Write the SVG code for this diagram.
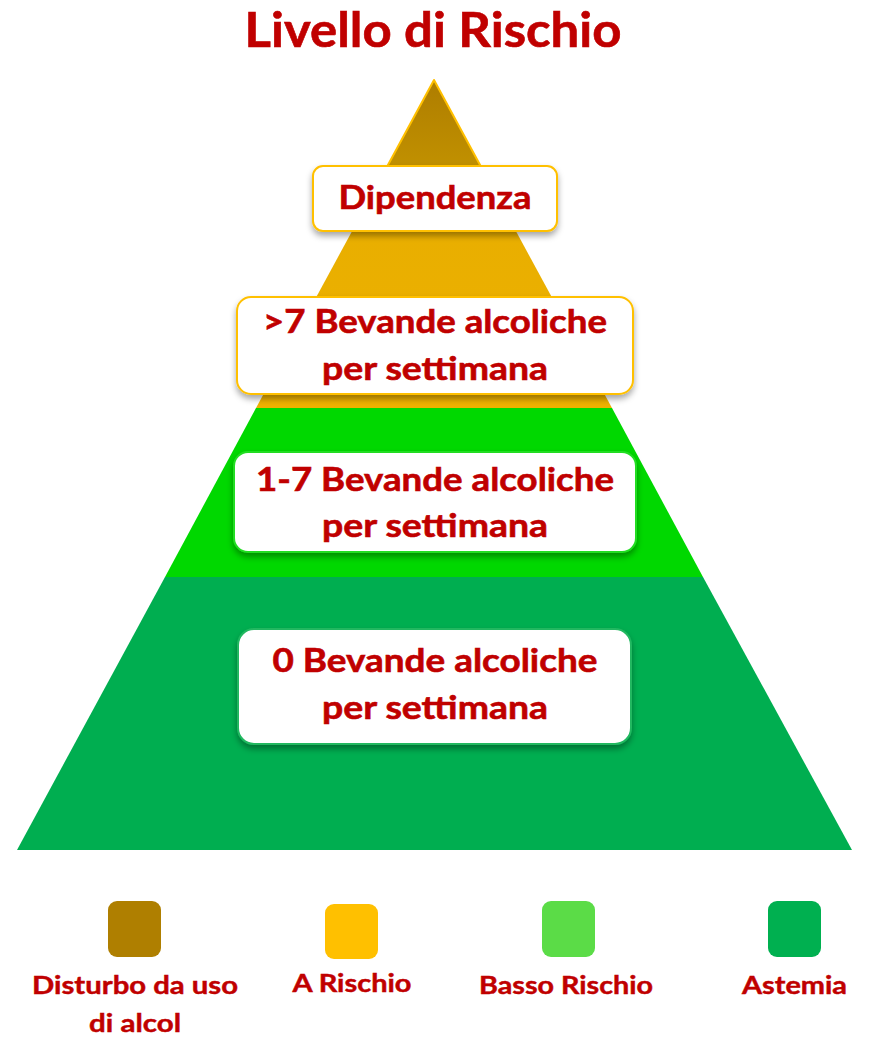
<svg xmlns="http://www.w3.org/2000/svg" width="876" height="1042" viewBox="0 0 876 1042">
<defs>
<linearGradient id="gBrown" x1="0" y1="0" x2="0" y2="1">
<stop offset="0" stop-color="#AE7D00"/>
<stop offset="1" stop-color="#C89800"/>
</linearGradient>
<linearGradient id="gGold" x1="0" y1="0" x2="0" y2="1">
<stop offset="0" stop-color="#E8AE00"/>
<stop offset="1" stop-color="#EDB100"/>
</linearGradient>
<filter id="sh" x="-10%" y="-20%" width="120%" height="150%">
<feDropShadow dx="0" dy="4" stdDeviation="3" flood-color="#000" flood-opacity="0.35"/>
</filter>
</defs>
<style>
.t{font-family:Lato,"Open Sans","Liberation Sans",sans-serif;font-weight:700;fill:#C00000;stroke:#C00000;stroke-width:0.6px;text-anchor:middle}
.box{fill:#FFFFFF;stroke-width:2;filter:url(#sh)}
.bx{font-size:33px}
.lg{font-size:24.5px;stroke-width:0.45px}
</style>
<rect width="876" height="1042" fill="#FFFFFF"/>
<g id="title"><text class="t" x="433" y="47" font-size="48" textLength="377" lengthAdjust="spacingAndGlyphs">Livello di Rischio</text></g>
<g id="pyramid">
<polygon points="165,577 703,577 852,850 17,850" fill="#00AE50"/>
<polygon points="256,408 612,408 703,577 165,577" fill="#00D800"/>
<polygon points="369,200 499,200 612,408 256,408" fill="url(#gGold)"/>
<polygon points="434,80 499,200 369,200" fill="url(#gBrown)" stroke="#FFC000" stroke-width="2" stroke-linejoin="round"/>
</g>
<g id="connectors"></g>
<g id="node-dipendenza">
<rect class="box" x="313" y="166" width="244" height="65" rx="10" stroke="#FFC000"/>
<text class="t bx" x="435" y="209" textLength="193" lengthAdjust="spacingAndGlyphs">Dipendenza</text>
</g>
<g id="node-over7">
<rect class="box" x="237" y="297" width="396" height="97" rx="14" stroke="#FFC000"/>
<text class="t bx" x="435" y="333" textLength="344" lengthAdjust="spacingAndGlyphs">&gt;7 Bevande alcoliche</text>
<text class="t bx" x="435" y="380" textLength="226" lengthAdjust="spacingAndGlyphs">per settimana</text>
</g>
<g id="node-1to7">
<rect class="box" x="234" y="452" width="402" height="100" rx="14" stroke="#22DD22"/>
<text class="t bx" x="435" y="491" textLength="358" lengthAdjust="spacingAndGlyphs">1-7 Bevande alcoliche</text>
<text class="t bx" x="435" y="537" textLength="226" lengthAdjust="spacingAndGlyphs">per settimana</text>
</g>
<g id="node-zero">
<rect class="box" x="238" y="629" width="393" height="115" rx="16" stroke="#20B860"/>
<text class="t bx" x="435" y="672" textLength="325" lengthAdjust="spacingAndGlyphs">0 Bevande alcoliche</text>
<text class="t bx" x="435" y="719" textLength="226" lengthAdjust="spacingAndGlyphs">per settimana</text>
</g>
<g id="legend-disturbo">
<rect x="108" y="901" width="53" height="56" rx="9" fill="#AF7F00"/>
<text class="t lg" x="135" y="994" textLength="206" lengthAdjust="spacingAndGlyphs">Disturbo da uso</text>
<text class="t lg" x="135" y="1032" textLength="92" lengthAdjust="spacingAndGlyphs">di alcol</text>
</g>
<g id="legend-rischio">
<rect x="325" y="904" width="53" height="55" rx="9" fill="#FFC000"/>
<text class="t lg" x="352" y="992" textLength="119" lengthAdjust="spacingAndGlyphs">A Rischio</text>
</g>
<g id="legend-basso">
<rect x="542" y="901" width="53" height="56" rx="9" fill="#5BDC47"/>
<text class="t lg" x="566" y="994" textLength="174" lengthAdjust="spacingAndGlyphs">Basso Rischio</text>
</g>
<g id="legend-astemia">
<rect x="768" y="901" width="53" height="56" rx="9" fill="#00B050"/>
<text class="t lg" x="794.5" y="994" textLength="105" lengthAdjust="spacingAndGlyphs">Astemia</text>
</g>
</svg>
